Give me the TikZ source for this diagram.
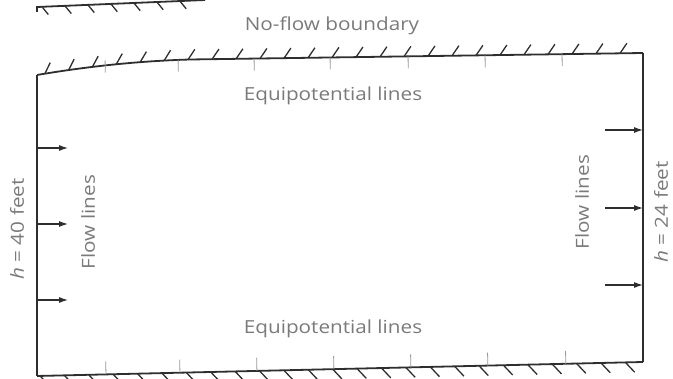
\documentclass[tikz,border=0pt]{standalone}
\usepackage{fontspec}
\newfontfamily\labfont[FakeStretch=1.15]{Open Sans}
\usetikzlibrary{decorations.markings,arrows.meta}
\definecolor{inkc}{HTML}{2E2E2E}
\definecolor{textc}{HTML}{7A7A7A}
\begin{document}
\begin{tikzpicture}[x=1pt,y=-1pt,
  edge/.style={line width=1.8pt, draw=inkc, line join=miter},
  hatch/.style={line width=1.3pt, draw=inkc},
  tickmark/.style={line width=0.8pt, draw=black!40},
  lab/.style={text=textc, font=\labfont\fontsize{18}{18}\selectfont, inner sep=0pt},
  flowarrow/.style={line width=1.1pt, draw=inkc, -{Latex[length=9pt,width=6pt]}},
]
\useasboundingbox (0,0) rectangle (673,379);

% fragment of the boundary above (cut off at the top)
\draw[edge, postaction={decorate}, decoration={markings,
  mark=between positions 10pt and 0.97 step 23pt with {\draw[hatch] (0,0) -- (6pt,-8pt);}}]
  (37,12) -- (37,7) -- (205,0);

% top no-flow boundary with hatches and ticks
\draw[edge, postaction={decorate}, decoration={markings,
  mark=between positions 8pt and 0.99 step 24pt with {\draw[hatch] (0,0) -- (7pt,10pt);},
  mark=at position 69pt with {\draw[tickmark] (0,0) -- (0,-12pt);},
  mark=at position 142pt with {\draw[tickmark] (0,0) -- (0,-12pt);},
  mark=at position 218pt with {\draw[tickmark] (0,0) -- (0,-12pt);},
  mark=at position 294pt with {\draw[tickmark] (0,0) -- (0,-12pt);},
  mark=at position 372pt with {\draw[tickmark] (0,0) -- (0,-12pt);},
  mark=at position 449pt with {\draw[tickmark] (0,0) -- (0,-12pt);},
  mark=at position 526pt with {\draw[tickmark] (0,0) -- (0,-12pt);}}]
  (37,75) .. controls (90,66) and (140,61) .. (190,59.5) -- (643,53);

% bottom no-flow boundary with hatches and ticks
\draw[edge, postaction={decorate}, decoration={markings,
  mark=between positions 3pt and 0.99 step 24.4pt with {\draw[hatch] (0,0) -- (9pt,-10pt);},
  mark=at position 69pt with {\draw[tickmark] (0,0) -- (0,13pt);},
  mark=at position 143pt with {\draw[tickmark] (0,0) -- (0,13pt);},
  mark=at position 220pt with {\draw[tickmark] (0,0) -- (0,13pt);},
  mark=at position 297pt with {\draw[tickmark] (0,0) -- (0,13pt);},
  mark=at position 374pt with {\draw[tickmark] (0,0) -- (0,13pt);},
  mark=at position 451pt with {\draw[tickmark] (0,0) -- (0,13pt);},
  mark=at position 529pt with {\draw[tickmark] (0,0) -- (0,13pt);}}]
  (37,376) -- (643,362);

% constant-head sides
\draw[edge] (37,75) -- (37,376);
\draw[edge] (643,53) -- (643,362);

% flow arrows on the left (inflow)
\coordinate (la) at (37,148);  \coordinate (lae) at (68,148);
\coordinate (lb) at (37,224);  \coordinate (lbe) at (68,224);
\coordinate (lc) at (37,300);  \coordinate (lce) at (68,300);
\draw[flowarrow] (la) -- (lae);
\draw[flowarrow] (lb) -- (lbe);
\draw[flowarrow] (lc) -- (lce);

% flow arrows on the right (outflow)
\coordinate (ra) at (605,130); \coordinate (rae) at (643,130);
\coordinate (rb) at (605,208); \coordinate (rbe) at (643,208);
\coordinate (rc) at (605,285); \coordinate (rce) at (643,285);
\draw[flowarrow] (ra) -- (rae);
\draw[flowarrow] (rb) -- (rbe);
\draw[flowarrow] (rc) -- (rce);

% labels
\node[lab] (noflow) at (332,26) {No-flow boundary};
\node[lab] (eqtop) at (333,96) {Equipotential lines};
\node[lab] (eqbot) at (333,329) {Equipotential lines};
\node[lab, rotate=90] (flowl) at (88,222) {Flow lines};
\node[lab, rotate=90] (flowr) at (582,202) {Flow lines};
\node[lab, rotate=90] (hl) at (17,229) {\textit{h} = 40 feet};
\node[lab, rotate=90] (hr) at (661,212) {\textit{h} = 24 feet};
\end{tikzpicture}
\end{document}
